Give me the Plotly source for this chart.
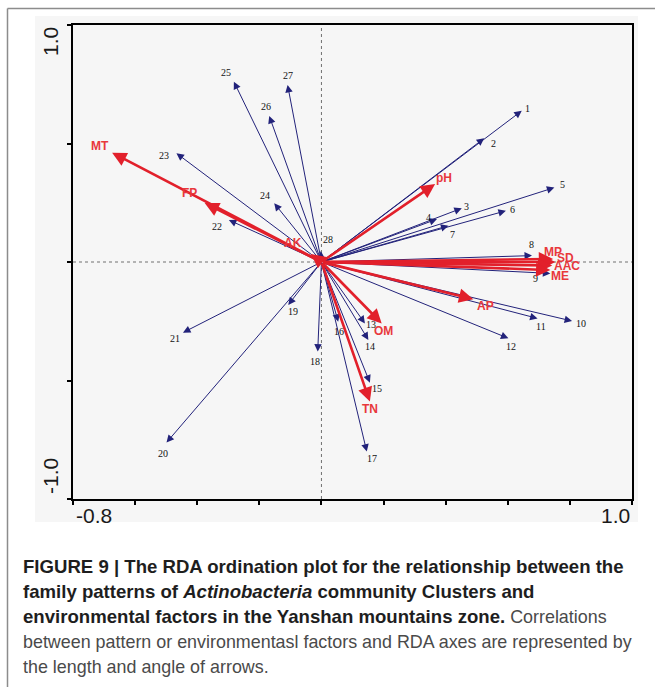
import plotly.graph_objects as go

# Species (pattern) scores on RDA axes 1 and 2
species = [str(i) for i in range(1, 29)]
species_x = [0.645, 0.524, 0.452, 0.372, 0.750, 0.594, 0.409, 0.678, 0.737, 0.807,
             0.696, 0.602, 0.140, 0.151, 0.156, 0.054, 0.146, -0.012, -0.107, -0.499,
             -0.446, -0.298, -0.467, -0.152, -0.282, -0.168, -0.109, -0.002]
species_y = [0.638, 0.522, 0.227, 0.181, 0.314, 0.216, 0.153, 0.027, -0.048, -0.249,
             -0.238, -0.322, -0.259, -0.329, -0.509, -0.252, -0.800, -0.378, -0.181, -0.762,
             -0.298, 0.177, 0.459, 0.248, 0.761, 0.616, 0.747, 0.046]

# Environmental factor scores
factors = ["MT", "FP", "AK", "pH", "MP", "SD", "AAC", "ME", "AP", "OM", "TN"]
factor_x = [-0.674, -0.376, -0.034, 0.366, 0.746, 0.753, 0.743, 0.737, 0.489, 0.194, 0.156]
factor_y = [0.461, 0.249, 0.034, 0.329, 0.013, 0.000, -0.015, -0.034, -0.157, -0.259, -0.589]

x_range = [-0.8, 1.0]
y_range = [-1.0, 1.0]
x_ticks = [-0.8, -0.6, -0.4, -0.2, 0.0, 0.2, 0.4, 0.6, 0.8, 1.0]
y_ticks = [-1.0, -0.5, 0.0, 0.5, 1.0]

# label offsets in pixels (dx right, dy down) relative to arrow tips
species_off = [(6, -2), (9, 5), (5, -2), (-8, -2), (8, -3), (7, -1), (4, 9), (-1, -11),
               (-15, 5), (9, 2), (3, 8), (3, 8), (6, 1), (2, 7), (7, 6), (1, 10),
               (5, 7), (-3, 10), (5, 7), (-3, 11), (-8, 6), (-12, 6), (-12, 2), (-9, -8),
               (-8, -9), (-3, -10), (0, -9), (7, -12)]
factor_off = [(-12, -7), (-15, -10), (-18, -11), (9, -6), (0, -7), (10, -4), (15, 0),
              (10, 6), (12, 7), (2, 8), (0, 7)]

NAVY = "#22227a"
RED = "#e2202b"
RED_TXT = "#e8383c"

W, H = 655, 687
ML, MR, MT_, MB = 73, 23, 25, 188
PW, PH = W - ML - MR, H - MT_ - MB


def pxx(p):
    return (p - ML) / PW


def pxy(p):
    return (H - MB - p) / PH


fig = go.Figure()

# invisible points at the arrow tips keep the axes bound to the data
fig.add_trace(go.Scatter(x=species_x + factor_x, y=species_y + factor_y, mode="markers",
                         marker=dict(size=1, color="rgba(0,0,0,0)"), hoverinfo="skip",
                         showlegend=False))

ann = []
shapes = []

# light gray panel behind the chart
shapes.append(dict(type="rect", xref="paper", yref="paper", x0=pxx(35), x1=pxx(638),
                   y0=pxy(522), y1=pxy(16), fillcolor="#f6f6f6", line=dict(width=0),
                   layer="below"))
# figure frame (left and top edges)
shapes.append(dict(type="line", xref="paper", yref="paper", x0=pxx(7.5), x1=pxx(7.5),
                   y0=pxy(687), y1=pxy(8.5), line=dict(color="#8c8c8c", width=1.5)))
shapes.append(dict(type="line", xref="paper", yref="paper", x0=pxx(7.5), x1=pxx(655),
                   y0=pxy(8.5), y1=pxy(8.5), line=dict(color="#8c8c8c", width=1.5)))
# dotted zero lines
shapes.append(dict(type="line", xref="x", yref="y", x0=x_range[0], x1=x_range[1], y0=0, y1=0,
                   line=dict(color="#707070", width=1, dash="dot"), layer="below"))
shapes.append(dict(type="line", xref="x", yref="y", x0=0, x1=0, y0=y_range[0], y1=y_range[1],
                   line=dict(color="#707070", width=1, dash="dot"), layer="below"))

# species arrows
for name, x, y in zip(species, species_x, species_y):
    ann.append(dict(x=x, y=y, ax=0, ay=0, xref="x", yref="y", axref="x", ayref="y",
                    text="", showarrow=True, arrowhead=2, arrowsize=1.5, arrowwidth=1,
                    arrowcolor=NAVY))
for name, x, y, (dx, dy) in zip(species, species_x, species_y, species_off):
    ann.append(dict(x=x, y=y, xref="x", yref="y", text=name, showarrow=False,
                    xshift=dx, yshift=-dy,
                    font=dict(family="Liberation Serif", size=10, color="#111111")))

# environmental factor arrows
for name, x, y in zip(factors, factor_x, factor_y):
    ann.append(dict(x=x, y=y, ax=0, ay=0, xref="x", yref="y", axref="x", ayref="y",
                    text="", showarrow=True, arrowhead=2, arrowsize=1.1, arrowwidth=2.6,
                    arrowcolor=RED))
for name, x, y, (dx, dy) in zip(factors, factor_x, factor_y, factor_off):
    ann.append(dict(x=x, y=y, xref="x", yref="y", text="<b>%s</b>" % name, showarrow=False,
                    xshift=dx, yshift=-dy,
                    font=dict(family="Liberation Sans", size=12, color=RED_TXT)))

# axis end labels
axis_font = dict(family="Liberation Sans", size=21, color="#1a1a1a")
ann.append(dict(xref="paper", yref="paper", x=pxx(74), y=pxy(515), text="-0.8",
                showarrow=False, xanchor="left", yanchor="middle", font=axis_font))
ann.append(dict(xref="paper", yref="paper", x=pxx(632), y=pxy(515), text="1.0",
                showarrow=False, xanchor="right", yanchor="middle", font=axis_font))
ann.append(dict(xref="paper", yref="paper", x=pxx(50), y=pxy(42), text="1.0",
                showarrow=False, textangle=-90, xanchor="center", yanchor="middle", font=axis_font))
ann.append(dict(xref="paper", yref="paper", x=pxx(50), y=pxy(476), text="-1.0",
                showarrow=False, textangle=-90, xanchor="center", yanchor="middle", font=axis_font))

# caption: bold title part, regular description part
B = '<span style="font-size:18.6px;color:#1e1e1e"><b>%s</b></span>'
R = '<span style="font-size:17.9px;color:#4a4a4a">%s</span>'
caption = [
    B % "FIGURE 9 | The RDA ordination plot for the relationship between the",
    B % "family patterns of <i>Actinobacteria</i> community Clusters and",
    B % "environmental factors in the Yanshan mountains zone." + R % " Correlations",
    R % "between pattern or environmentasl factors and RDA axes are represented by",
    R % "the length and angle of arrows.",
]
for i, line in enumerate(caption):
    ann.append(dict(xref="paper", yref="paper", x=pxx(21), y=pxy(566 + 25.2 * i), text=line,
                    showarrow=False, xanchor="left", yanchor="middle",
                    font=dict(family="Liberation Sans", size=18, color="#2a2a2a")))

axis_common = dict(showgrid=False, zeroline=False, showline=True, mirror=True,
                   linecolor="#000000", linewidth=2, ticks="outside", ticklen=4,
                   tickwidth=1.5, tickcolor="#000000", showticklabels=False)

fig.update_layout(
    width=W, height=H,
    margin=dict(l=ML, r=MR, t=MT_, b=MB),
    paper_bgcolor="#ffffff",
    plot_bgcolor="#f6f6f6",
    xaxis=dict(range=x_range, tickvals=x_ticks, **axis_common),
    yaxis=dict(range=y_range, tickvals=y_ticks, **axis_common),
    annotations=ann,
    shapes=shapes,
    showlegend=False,
)

fig.write_html("out.html")
